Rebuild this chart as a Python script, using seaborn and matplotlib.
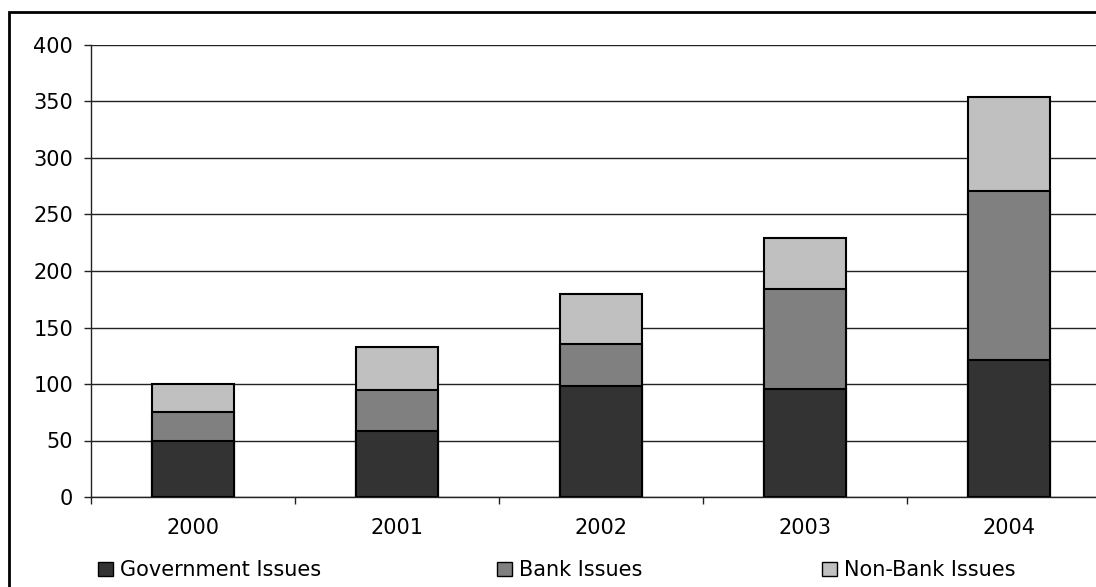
import pandas as pd
import numpy as np
import matplotlib.pyplot as plt
import matplotlib.patches as mpatches
import seaborn as sns

# Values
years = ['2000', '2001', '2002', '2003', '2004']
government = [50, 58, 98.5, 96, 121]
bank = [25, 37, 37, 88, 150]
non_bank = [25, 38, 44.5, 45, 83]
series_names = ['Government Issues', 'Bank Issues', 'Non-Bank Issues']
colors = ['#333333', '#808080', '#c0c0c0']

df = pd.DataFrame({'year': years, 'gov': government, 'bank': bank, 'nonbank': non_bank})
df['gov_bank'] = df['gov'] + df['bank']
df['total'] = df['gov_bank'] + df['nonbank']

sns.set_theme(style='white')
plt.rcParams['font.family'] = ['DejaVu Sans']
plt.rcParams['text.color'] = 'black'

fig = plt.figure(figsize=(10.96, 5.87), dpi=100)
ax = fig.add_axes([91 / 1096, 1 - 497 / 587, 1020 / 1096, 452 / 587])

# Stacked bars drawn as overlapping cumulative totals
for col, c in zip(['total', 'gov_bank', 'gov'], colors[::-1]):
    sns.barplot(data=df, x='year', y=col, color=c, width=0.4, edgecolor='black',
                linewidth=1.5, saturation=1, ax=ax, zorder=3)

ax.set_ylim(0, 400)
ax.set_xlim(-0.5, 4.5)
ax.set_yticks(np.arange(0, 401, 50))
ax.yaxis.grid(True, color='#222222', linewidth=1)
ax.set_axisbelow(True)
ax.set_xlabel('')
ax.set_ylabel('')

for s in ['top', 'right']:
    ax.spines[s].set_visible(False)
for s in ['left', 'bottom']:
    ax.spines[s].set_color('#222222')
    ax.spines[s].set_linewidth(1)

ax.tick_params(axis='y', which='major', length=5, width=1, color='#222222',
               direction='out', left=True, pad=8, labelsize=15, labelcolor='black')
ax.set_xticks(np.arange(-0.5, 4.6, 1), minor=True)
ax.tick_params(axis='x', which='major', length=0, pad=15, labelsize=15, labelcolor='black')
ax.tick_params(axis='x', which='minor', length=5, width=1, color='#222222',
               direction='out', bottom=True)

# Legend entries placed across the bottom
legend_x = [98 / 1096, 497 / 1096, 822 / 1096]
for name, c, lx in zip(series_names, colors, legend_x):
    h = mpatches.Patch(facecolor=c, edgecolor='black', linewidth=1)
    fig.legend(handles=[h], labels=[name], loc='center left',
               bbox_to_anchor=(lx, 1 - 570 / 587), frameon=False, fontsize=15,
               handlelength=0.7, handleheight=0.65, handletextpad=0.35,
               borderpad=0, borderaxespad=0, labelcolor='black')

# Outer chart frame
frame = mpatches.Rectangle((9 / 1096, -0.2), 1.2, 1.2 - 12 / 587,
                           transform=fig.transFigure, fill=False,
                           edgecolor='black', linewidth=2, clip_on=False)
fig.patches.append(frame)

fig.savefig('out.png', dpi=100, facecolor='white')
